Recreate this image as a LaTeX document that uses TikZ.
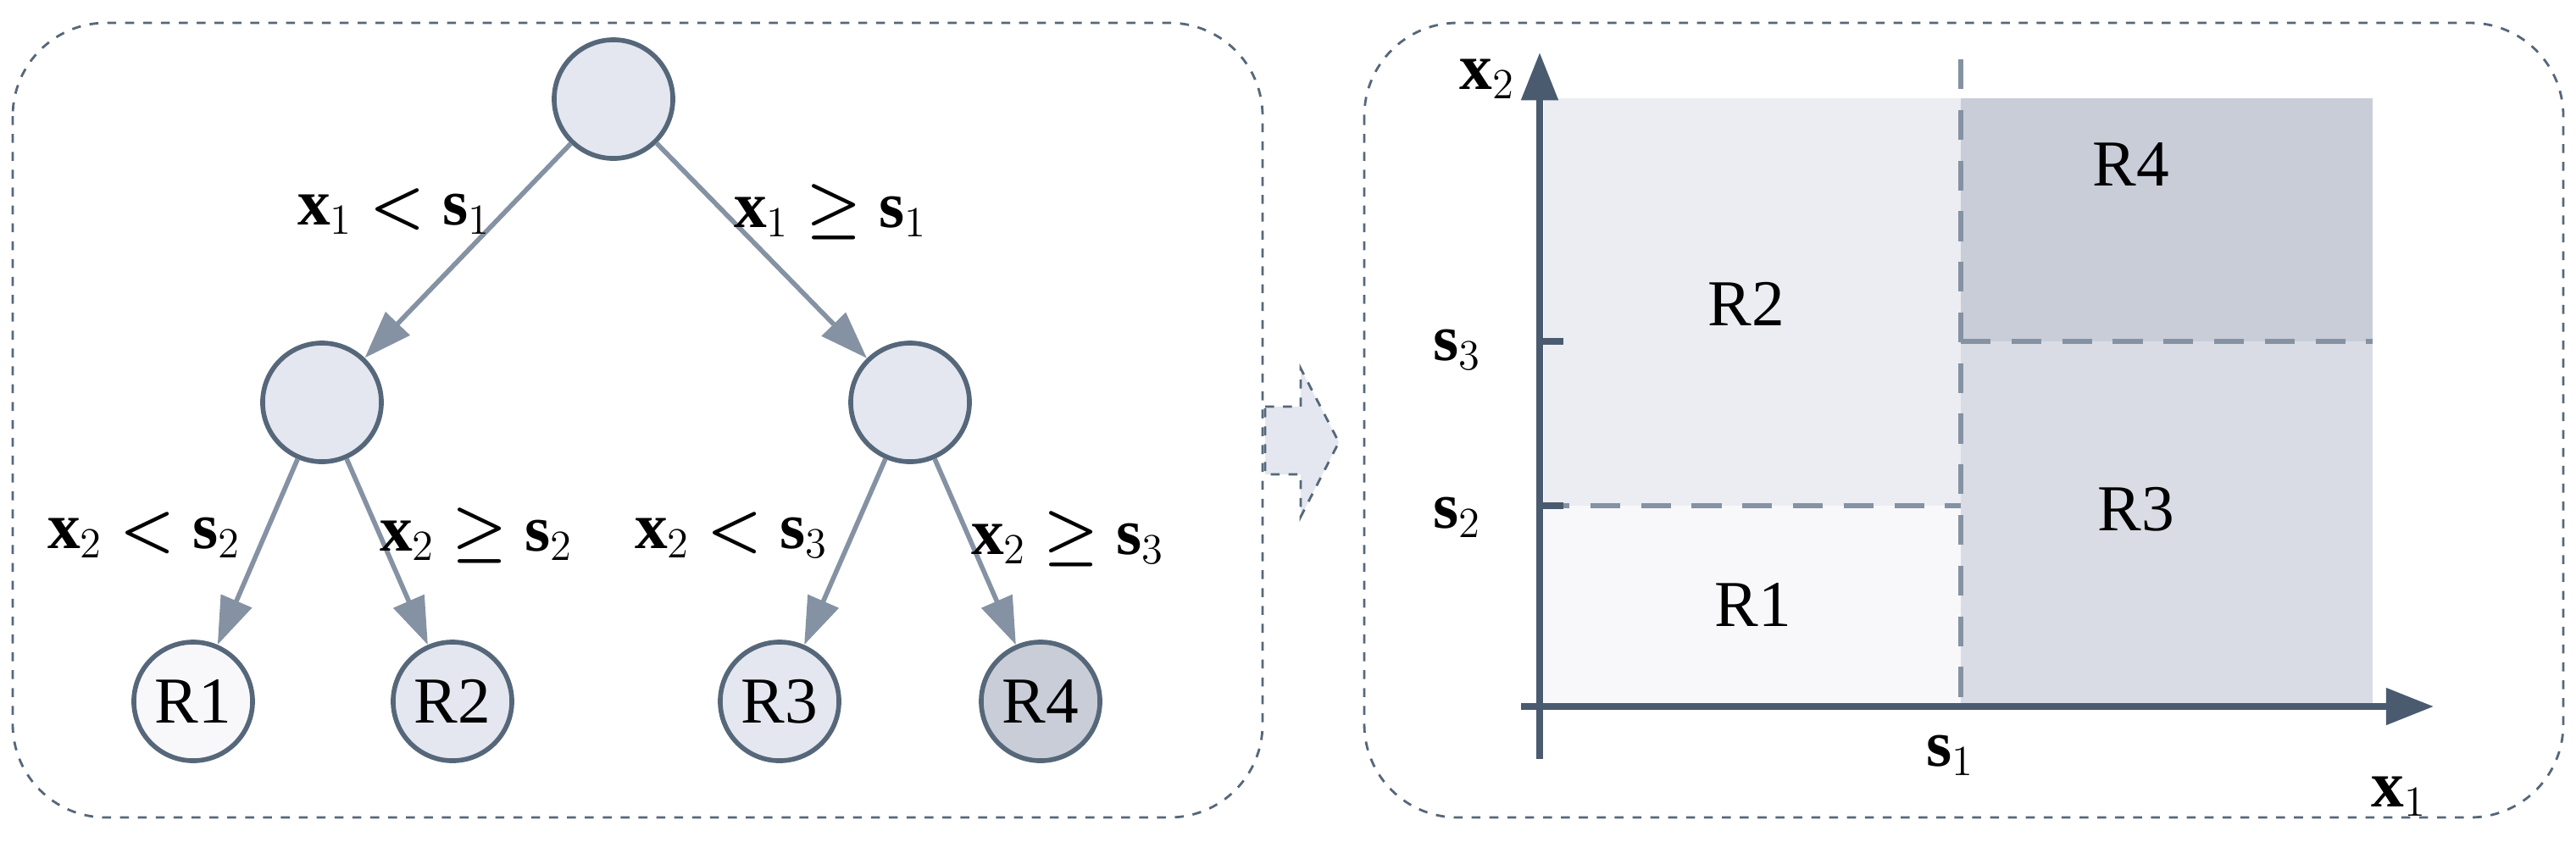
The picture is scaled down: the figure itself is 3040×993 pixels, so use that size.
\documentclass[tikz,border=0pt]{standalone}
\usepackage{amsmath}
\usepackage{fontspec}
\setmainfont{Liberation Serif}
\usetikzlibrary{arrows.meta}
\definecolor{nodefill}{HTML}{E4E7F0}
\definecolor{nodeline}{HTML}{56677A}
\definecolor{edge}{HTML}{8592A3}
\definecolor{axis}{HTML}{4A5B70}
\definecolor{rA}{HTML}{F8F8FB}
\definecolor{rB}{HTML}{ECEDF2}
\definecolor{rC}{HTML}{D9DCE5}
\definecolor{rD}{HTML}{C9CDD8}
\begin{document}
\begin{tikzpicture}[x=0.01cm,y=-0.01cm,
  tn/.style={circle,draw=nodeline,line width=1.6pt,minimum size=1.4cm,inner sep=0pt,font=\fontsize{22}{24}\selectfont},
  ed/.style={draw=edge,line width=1.6pt,-{Triangle[length=16pt,width=11pt]}},
  lbl/.style={font=\fontsize{22}{24}\selectfont},
  panel/.style={draw=nodeline,dashed,line width=0.8pt,rounded corners=1.1cm},
  split/.style={draw=edge,dashed,line width=1.6pt,dash pattern=on 10pt off 7pt},
  ax/.style={draw=axis,line width=2.2pt,-{Triangle[length=16pt,width=12pt]}}]
\useasboundingbox (0,0) rectangle (3040,993);
% panels
\draw[panel] (15,27) rectangle (1490,965);
\draw[panel] (1610,27) rectangle (3025,965);
% transition arrow
\draw[draw=nodeline,dashed,fill=nodefill,line width=0.8pt] (1493,480) -- (1535,480) -- (1535,435) -- (1580,522) -- (1535,610) -- (1535,560) -- (1493,560) -- cycle;
% tree
\node[tn,fill=nodefill] (root) at (724,117) {};
\node[tn,fill=nodefill] (m1) at (380,475) {};
\node[tn,fill=nodefill] (m2) at (1074,475) {};
\node[tn,fill=rA] (r1) at (228,828) {R1};
\node[tn,fill=nodefill] (r2) at (534,828) {R2};
\node[tn,fill=nodefill] (r3) at (920,828) {R3};
\node[tn,fill=rD] (r4) at (1228,828) {R4};
\draw[ed] (root) -- (m1);
\draw[ed] (root) -- (m2);
\draw[ed] (m1) -- (r1);
\draw[ed] (m1) -- (r2);
\draw[ed] (m2) -- (r3);
\draw[ed] (m2) -- (r4);
\node[lbl] (l1) at (465,250) {$\mathbf{x}_1\boldsymbol{<}\mathbf{s}_1$};
\node[lbl] (l2) at (980,250) {$\mathbf{x}_1\boldsymbol{\geq}\mathbf{s}_1$};
\node[lbl] (l3) at (170,632) {$\mathbf{x}_2\boldsymbol{<}\mathbf{s}_2$};
\node[lbl] (l4) at (562,632) {$\mathbf{x}_2\boldsymbol{\geq}\mathbf{s}_2$};
\node[lbl] (l5) at (863,632) {$\mathbf{x}_2\boldsymbol{<}\mathbf{s}_3$};
\node[lbl] (l6) at (1260,636) {$\mathbf{x}_2\boldsymbol{\geq}\mathbf{s}_3$};
% regions
\fill[rB] (1822,116) rectangle (2314,597);
\fill[rA] (1822,597) rectangle (2314,832);
\fill[rD] (2314,116) rectangle (2800,403);
\fill[rC] (2314,403) rectangle (2800,832);
\draw[split] (2314,70) -- (2314,832);
\draw[split] (1817,597) -- (2314,597);
\draw[split] (2314,403) -- (2800,403);
\coordinate (o1) at (1795,834);
\coordinate (xe) at (2872,834);
\coordinate (o2) at (1817,896);
\coordinate (ye) at (1817,62);
\draw[ax] (o1) -- (xe);
\draw[ax] (o2) -- (ye);
\draw[axis,line width=2.2pt] (1817,403) -- (1845,403);
\draw[axis,line width=2.2pt] (1817,597) -- (1845,597);
\node[lbl] (R1) at (2069,714) {R1};
\node[lbl] (R2) at (2061,359) {R2};
\node[lbl] (R3) at (2521,601) {R3};
\node[lbl] (R4) at (2515,194) {R4};
\node[lbl] (s3) at (1720,413) {$\mathbf{s}_3$};
\node[lbl] (s2) at (1720,611) {$\mathbf{s}_2$};
\node[lbl] (s1) at (2302,892) {$\mathbf{s}_1$};
\node[lbl] (x1) at (2831,940) {$\mathbf{x}_1$};
\node[lbl] (x2) at (1755,93) {$\mathbf{x}_2$};
\end{tikzpicture}
\end{document}
